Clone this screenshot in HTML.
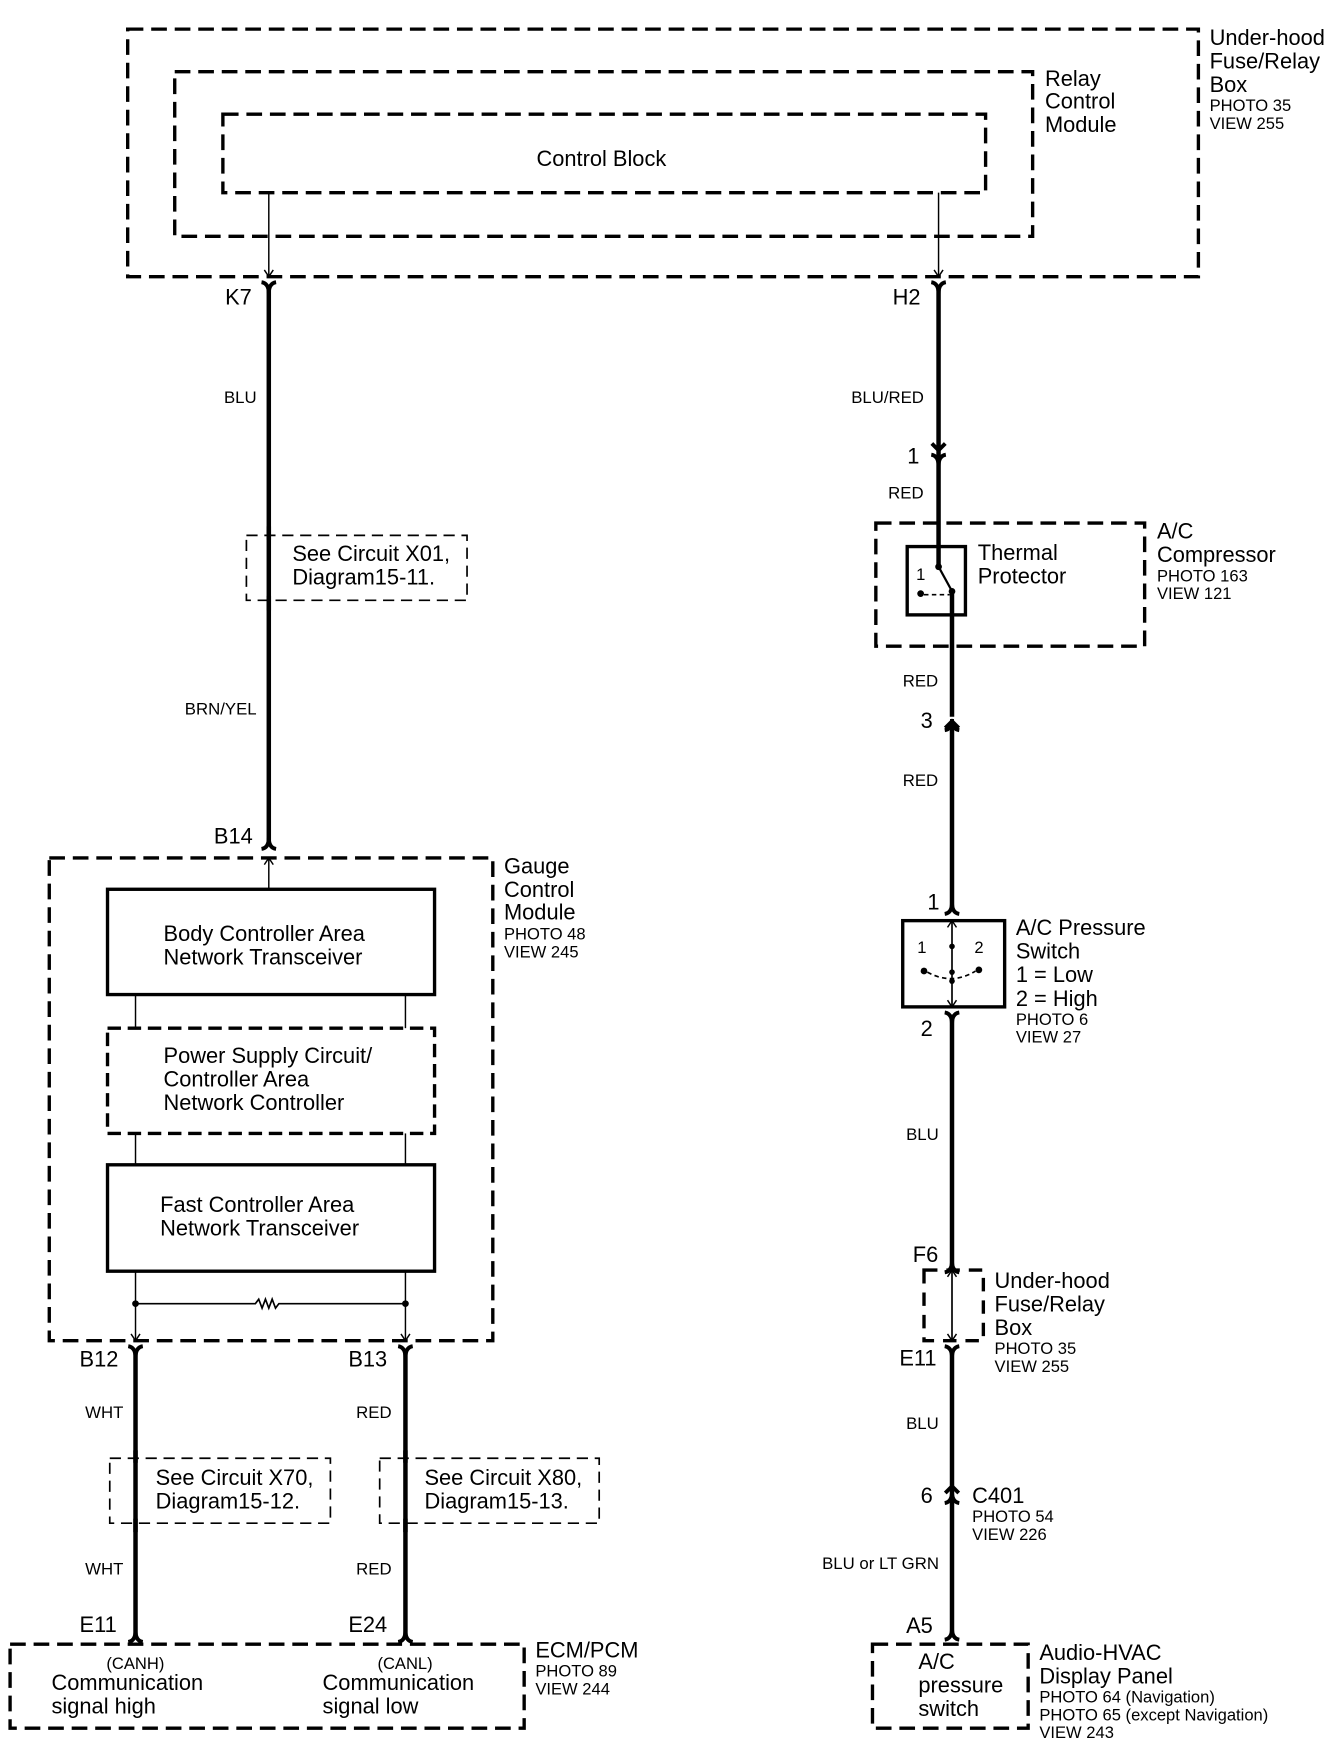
<!DOCTYPE html>
<html><head><meta charset="utf-8">
<style>
html,body{margin:0;padding:0;background:#fff;}
svg{display:block;}
text{font-family:"Liberation Sans",Arial,sans-serif;fill:#000;}
.b{font-size:19.5px;}
.s{font-size:14.8px;}
.w{font-size:15px;}
</style></head>
<body>
<svg width="1344" height="1760" viewBox="0 0 1200 1571.43" xmlns="http://www.w3.org/2000/svg">
<defs>
<g id="cd"><path d="M-6.5,-6 Q0,-5 0,4 M6.5,-6 Q0,-5 0,4" fill="none" stroke="#000" stroke-width="3.5"/></g>
<g id="cu"><path d="M-6.5,6 Q0,5 0,-4 M6.5,6 Q0,5 0,-4" fill="none" stroke="#000" stroke-width="3.5"/></g>
<g id="ad"><path d="M-4,-6 L0,0 L4,-6" fill="none" stroke="#000" stroke-width="1.3"/></g>
<g id="au"><path d="M-4,6 L0,0 L4,6" fill="none" stroke="#000" stroke-width="1.3"/></g>
<g id="md"><path d="M-6,-10 L0,-4 L6,-10" fill="none" stroke="#000" stroke-width="3.5"/></g>
<g id="mu"><path d="M-6,10 L0,4 L6,10" fill="none" stroke="#000" stroke-width="3.5"/></g>
</defs>
<g fill="none" stroke="#000">
<rect x="114" y="26" width="956" height="221" stroke-width="3" stroke-dasharray="14,7"/>
<rect x="156" y="64" width="766" height="147" stroke-width="3" stroke-dasharray="14,7"/>
<rect x="199" y="102" width="681" height="70" stroke-width="3" stroke-dasharray="14,7"/>
<line x1="240" y1="172" x2="240" y2="247" stroke-width="1.3"/>
<line x1="838" y1="172" x2="838" y2="247" stroke-width="1.3"/>
</g>
<use href="#ad" x="240" y="247"/><use href="#ad" x="838" y="247"/>

<line x1="240" y1="258" x2="240" y2="752" stroke="#000" stroke-width="4"/>
<use href="#cd" x="240" y="258"/><use href="#cu" x="240" y="752"/>
<rect x="220" y="478" width="197" height="58" fill="none" stroke="#000" stroke-width="1.5" stroke-dasharray="10,6"/>
<rect x="232" y="482" width="16" height="50" fill="#fff"/>
<line x1="240" y1="470" x2="240" y2="545" stroke="#000" stroke-width="4"/>

<g fill="none" stroke="#000">
<rect x="44" y="766" width="396" height="431" stroke-width="3" stroke-dasharray="14,7"/>
<line x1="240" y1="766" x2="240" y2="794" stroke-width="1.3"/>
<rect x="96" y="794" width="292" height="94" stroke-width="3"/>
<line x1="121" y1="888" x2="121" y2="918" stroke-width="1.3"/>
<line x1="362" y1="888" x2="362" y2="918" stroke-width="1.3"/>
<rect x="96" y="918" width="292" height="94" stroke-width="3" stroke-dasharray="12,6"/>
<line x1="121" y1="1012" x2="121" y2="1040" stroke-width="1.3"/>
<line x1="362" y1="1012" x2="362" y2="1040" stroke-width="1.3"/>
<rect x="96" y="1040" width="292" height="95" stroke-width="3"/>
<line x1="121" y1="1135" x2="121" y2="1197" stroke-width="1.3"/>
<line x1="362" y1="1135" x2="362" y2="1197" stroke-width="1.3"/>
<path d="M121,1164 L228,1164 L231,1160 L234,1168 L237,1160 L240,1168 L243,1160 L246,1168 L249,1164 L362,1164" stroke-width="1.5"/>
</g>
<circle cx="121" cy="1164" r="3"/><circle cx="362" cy="1164" r="3"/>
<use href="#au" x="240" y="766"/>
<use href="#ad" x="121" y="1197"/><use href="#ad" x="362" y="1197"/>

<line x1="121" y1="1208" x2="121" y2="1460" stroke="#000" stroke-width="4"/>
<line x1="362" y1="1208" x2="362" y2="1460" stroke="#000" stroke-width="4"/>
<use href="#cd" x="121" y="1208"/><use href="#cd" x="362" y="1208"/>
<use href="#cu" x="121" y="1460"/><use href="#cu" x="362" y="1460"/>
<rect x="98" y="1302" width="197" height="58" fill="none" stroke="#000" stroke-width="1.5" stroke-dasharray="10,6"/>
<rect x="339" y="1302" width="196" height="58" fill="none" stroke="#000" stroke-width="1.5" stroke-dasharray="10,6"/>
<rect x="113" y="1306" width="16" height="50" fill="#fff"/><rect x="354" y="1306" width="16" height="50" fill="#fff"/>
<line x1="121" y1="1295" x2="121" y2="1368" stroke="#000" stroke-width="4"/>
<line x1="362" y1="1295" x2="362" y2="1368" stroke="#000" stroke-width="4"/>
<rect x="9" y="1468" width="459" height="75" fill="none" stroke="#000" stroke-width="3" stroke-dasharray="14,7"/>

<line x1="838" y1="258" x2="838" y2="488" stroke="#000" stroke-width="4"/>
<use href="#cd" x="838" y="258"/>
<use href="#md" x="838" y="406"/><use href="#cd" x="838" y="412"/>
<rect x="782" y="467" width="240" height="110" fill="none" stroke="#000" stroke-width="3" stroke-dasharray="14,7"/>
<rect x="810" y="488" width="52" height="61" fill="#fff" stroke="#000" stroke-width="3"/>
<line x1="838" y1="488" x2="838" y2="505" stroke="#000" stroke-width="4"/>
<circle cx="838" cy="506" r="3"/>
<line x1="838" y1="506" x2="849" y2="526" stroke="#000" stroke-width="2"/>
<circle cx="850" cy="528" r="3"/>
<circle cx="822" cy="530" r="3"/>
<path d="M825,531 L848,531" stroke="#000" stroke-width="1.5" stroke-dasharray="4,3"/>
<line x1="850" y1="528" x2="850" y2="640" stroke="#000" stroke-width="4"/>
<use href="#mu" x="850" y="640"/><use href="#cu" x="850" y="646"/>
<line x1="850" y1="646" x2="850" y2="810" stroke="#000" stroke-width="4"/>
<use href="#cu" x="850" y="810"/>
<rect x="806" y="822" width="91" height="77" fill="none" stroke="#000" stroke-width="3"/>
<line x1="850" y1="822" x2="850" y2="899" stroke="#000" stroke-width="1.5"/>
<use href="#au" x="850" y="822"/><use href="#ad" x="850" y="899"/>
<circle cx="850" cy="845" r="2.5"/><circle cx="850" cy="868" r="2.5"/><circle cx="850" cy="876" r="2.5"/>
<circle cx="825" cy="867" r="3"/><circle cx="874" cy="866" r="3"/>
<path d="M828,868 Q850,880 871,867" fill="none" stroke="#000" stroke-width="1.5" stroke-dasharray="4,3"/>
<line x1="850" y1="910" x2="850" y2="1130" stroke="#000" stroke-width="4"/>
<use href="#cd" x="850" y="910"/><use href="#cu" x="850" y="1130"/>
<rect x="825" y="1134" width="53" height="63" fill="none" stroke="#000" stroke-width="3" stroke-dasharray="12,8"/>
<line x1="850" y1="1134" x2="850" y2="1197" stroke="#000" stroke-width="1.5"/>
<use href="#au" x="850" y="1134"/><use href="#ad" x="850" y="1197"/>
<line x1="850" y1="1208" x2="850" y2="1458" stroke="#000" stroke-width="4"/>
<use href="#cd" x="850" y="1208"/>
<use href="#mu" x="850" y="1323"/><use href="#cu" x="850" y="1336"/>
<use href="#cu" x="850" y="1458"/>
<rect x="779" y="1468" width="139" height="75" fill="none" stroke="#000" stroke-width="3" stroke-dasharray="14,7"/>

<text class="b" x="1080" y="40">Under-hood</text>
<text class="b" x="1080" y="61">Fuse/Relay</text>
<text class="b" x="1080" y="82">Box</text>
<text class="s" x="1080" y="99">PHOTO 35</text>
<text class="s" x="1080" y="115">VIEW 255</text>
<text class="b" x="933" y="77">Relay</text>
<text class="b" x="933" y="97">Control</text>
<text class="b" x="933" y="118">Module</text>
<text class="b" x="479" y="148">Control Block</text>
<text class="b" x="201" y="272">K7</text>
<text class="b" x="797" y="272">H2</text>
<text class="w" x="200" y="360">BLU</text>
<text class="w" x="760" y="360">BLU/RED</text>
<text class="b" x="810" y="414">1</text>
<text class="w" x="793" y="445">RED</text>
<text class="b" x="261" y="501">See Circuit X01,</text>
<text class="b" x="261" y="522">Diagram15-11.</text>
<text class="b" x="873" y="500">Thermal</text>
<text class="b" x="873" y="521">Protector</text>
<text class="s" x="818" y="518">1</text>
<text class="b" x="1033" y="481">A/C</text>
<text class="b" x="1033" y="502">Compressor</text>
<text class="s" x="1033" y="519">PHOTO 163</text>
<text class="s" x="1033" y="535">VIEW 121</text>
<text class="w" x="806" y="613">RED</text>
<text class="b" x="822" y="650">3</text>
<text class="w" x="806" y="702">RED</text>
<text class="w" x="165" y="638">BRN/YEL</text>
<text class="b" x="191" y="753">B14</text>
<text class="b" x="450" y="780">Gauge</text>
<text class="b" x="450" y="801">Control</text>
<text class="b" x="450" y="821">Module</text>
<text class="s" x="450" y="839">PHOTO 48</text>
<text class="s" x="450" y="855">VIEW 245</text>
<text class="b" x="146" y="840">Body Controller Area</text>
<text class="b" x="146" y="861">Network Transceiver</text>
<text class="b" x="146" y="949">Power Supply Circuit/</text>
<text class="b" x="146" y="970">Controller Area</text>
<text class="b" x="146" y="991">Network Controller</text>
<text class="b" x="143" y="1082">Fast Controller Area</text>
<text class="b" x="143" y="1103">Network Transceiver</text>
<text class="b" x="828" y="812">1</text>
<text class="b" x="907" y="835">A/C Pressure</text>
<text class="b" x="907" y="856">Switch</text>
<text class="b" x="907" y="877">1 = Low</text>
<text class="b" x="907" y="898">2 = High</text>
<text class="s" x="907" y="915">PHOTO 6</text>
<text class="s" x="907" y="931">VIEW 27</text>
<text class="s" x="819" y="851">1</text>
<text class="s" x="870" y="851">2</text>
<text class="b" x="822" y="925">2</text>
<text class="w" x="809" y="1018">BLU</text>
<text class="b" x="815" y="1127">F6</text>
<text class="b" x="888" y="1150">Under-hood</text>
<text class="b" x="888" y="1171">Fuse/Relay</text>
<text class="b" x="888" y="1192">Box</text>
<text class="s" x="888" y="1209">PHOTO 35</text>
<text class="s" x="888" y="1225">VIEW 255</text>
<text class="b" x="803" y="1219">E11</text>
<text class="w" x="809" y="1276">BLU</text>
<text class="b" x="822" y="1342">6</text>
<text class="b" x="868" y="1342">C401</text>
<text class="s" x="868" y="1359">PHOTO 54</text>
<text class="s" x="868" y="1375">VIEW 226</text>
<text class="w" x="734" y="1401">BLU or LT GRN</text>
<text class="b" x="809" y="1458">A5</text>
<text class="b" x="820" y="1490">A/C</text>
<text class="b" x="820" y="1511">pressure</text>
<text class="b" x="820" y="1532">switch</text>
<text class="b" x="928" y="1482">Audio-HVAC</text>
<text class="b" x="928" y="1503">Display Panel</text>
<text class="s" x="928" y="1520">PHOTO 64 (Navigation)</text>
<text class="s" x="928" y="1536">PHOTO 65 (except Navigation)</text>
<text class="s" x="928" y="1552">VIEW 243</text>
<text class="b" x="71" y="1220">B12</text>
<text class="b" x="311" y="1220">B13</text>
<text class="w" x="76" y="1266">WHT</text>
<text class="w" x="318" y="1266">RED</text>
<text class="b" x="139" y="1326">See Circuit X70,</text>
<text class="b" x="139" y="1347">Diagram15-12.</text>
<text class="b" x="379" y="1326">See Circuit X80,</text>
<text class="b" x="379" y="1347">Diagram15-13.</text>
<text class="w" x="76" y="1406">WHT</text>
<text class="w" x="318" y="1406">RED</text>
<text class="b" x="71" y="1457">E11</text>
<text class="b" x="311" y="1457">E24</text>
<text class="s" x="95" y="1490">(CANH)</text>
<text class="b" x="46" y="1509">Communication</text>
<text class="b" x="46" y="1530">signal high</text>
<text class="s" x="337" y="1490">(CANL)</text>
<text class="b" x="288" y="1509">Communication</text>
<text class="b" x="288" y="1530">signal low</text>
<text class="b" x="478" y="1480">ECM/PCM</text>
<text class="s" x="478" y="1497">PHOTO 89</text>
<text class="s" x="478" y="1513">VIEW 244</text>
</svg>
</body></html>
